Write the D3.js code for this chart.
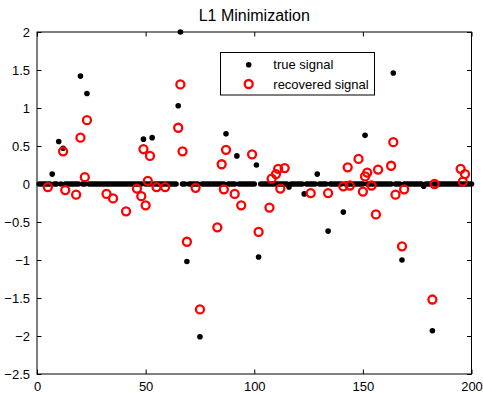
<!DOCTYPE html>
<html>
<head>
<meta charset="utf-8">
<script src="https://cdn.jsdelivr.net/npm/d3@7/dist/d3.min.js"></script>
<style>
  html, body { margin: 0; padding: 0; background: #fff; }
  svg { display: block; font-family: "Liberation Sans", Arial, Helvetica, sans-serif; }
</style>
</head>
<body>
<svg id="chart" width="483" height="393"></svg>
<script>
// Signal length and the nonzero entries of the sparse true signal (index, value)
const signalLength = 200;
const trueIdx = [7, 10, 12, 20, 23, 49, 53, 65, 66, 69, 75, 87, 92, 101, 102, 116, 123, 129, 134, 141, 151, 164, 168, 178, 182];
const trueVal = [0.13, 0.56, 0.47, 1.42, 1.19, 0.59, 0.61, 1.03, 2.0, -1.02, -2.01, 0.66, 0.37, 0.25, -0.96, -0.04, -0.13, 0.13, -0.62, -0.37, 0.64, 1.46, -1.0, -0.03, -1.93];

// Support of the recovered signal (index, value)
const recIdx = [5, 12, 13, 18, 20, 22, 23, 32, 35, 41, 46, 48, 49, 50, 51, 52, 55, 59, 65, 66, 67, 69, 73, 75, 83, 85, 86, 87, 91, 94, 99, 102, 107, 108, 110, 111, 112, 114, 126, 134, 141, 143, 144, 148, 150, 151, 152, 154, 156, 157, 163, 164, 165, 168, 169, 182, 183, 195, 196, 197];
const recVal = [-0.04, 0.43, -0.08, -0.14, 0.61, 0.09, 0.84, -0.13, -0.19, -0.36, -0.06, -0.16, 0.46, -0.28, 0.04, 0.37, -0.04, -0.04, 0.74, 1.31, 0.43, -0.76, -0.05, -1.65, -0.57, 0.26, -0.07, 0.45, -0.13, -0.28, 0.39, -0.63, -0.31, 0.07, 0.13, 0.20, -0.06, 0.21, -0.12, -0.12, -0.03, 0.22, -0.02, 0.33, -0.10, 0.10, 0.15, -0.02, -0.40, 0.19, 0.24, 0.55, -0.14, -0.82, -0.07, -1.52, 0.00, 0.20, 0.03, 0.13];

// Axis ticks
const xTicks = [0, 50, 100, 150, 200];
const yTicks = [-2.5, -2, -1.5, -1, -0.5, 0, 0.5, 1, 1.5, 2];

const titleText = "L1 Minimization";
const legendLabels = ["true signal", "recovered signal"];

// Full true signal: zeros everywhere except the listed entries
const trueSignal = d3.range(1, signalLength + 1).map(i => {
  const k = trueIdx.indexOf(i);
  return { i, v: k >= 0 ? trueVal[k] : 0 };
});
const recovered = recIdx.map((i, k) => ({ i, v: recVal[k] }));

const svg = d3.select("#chart");
const plot = { left: 37, right: 471.5, top: 32, bottom: 374 };

const x = d3.scaleLinear().domain([0, 200]).range([plot.left, plot.right]);
const y = d3.scaleLinear().domain([-2.5, 2]).range([plot.bottom, plot.top]);

const fmt = v => (v < 0 ? "\u2212" + Math.abs(v) : String(v));

// Title
svg.append("text")
  .attr("x", (plot.left + plot.right) / 2)
  .attr("y", 21)
  .attr("text-anchor", "middle")
  .attr("font-size", 16)
  .attr("fill", "#000")
  .text(titleText);

// Bottom axis with inward ticks, mirrored at the top
const tickLen = 4.5;
svg.append("g")
  .attr("transform", `translate(0,${plot.bottom})`)
  .call(d3.axisBottom(x).tickValues(xTicks).tickSize(-tickLen).tickPadding(8).tickFormat(fmt))
  .call(g => g.select(".domain").remove())
  .call(g => g.selectAll("text").attr("font-size", 13).attr("font-family", null).attr("fill", "#000"))
  .call(g => g.selectAll("line").attr("stroke", "#000"));

svg.append("g")
  .attr("transform", `translate(0,${plot.top})`)
  .call(d3.axisTop(x).tickValues(xTicks).tickSize(-tickLen).tickFormat(""))
  .call(g => g.select(".domain").remove())
  .call(g => g.selectAll("line").attr("stroke", "#000"));

// Left axis with inward ticks, mirrored at the right
svg.append("g")
  .attr("transform", `translate(${plot.left},0)`)
  .call(d3.axisLeft(y).tickValues(yTicks).tickSize(-tickLen).tickPadding(7).tickFormat(fmt))
  .call(g => g.select(".domain").remove())
  .call(g => g.selectAll("text").attr("font-size", 13).attr("font-family", null).attr("fill", "#000"))
  .call(g => g.selectAll("line").attr("stroke", "#000"));

svg.append("g")
  .attr("transform", `translate(${plot.right},0)`)
  .call(d3.axisRight(y).tickValues(yTicks).tickSize(-tickLen).tickFormat(""))
  .call(g => g.select(".domain").remove())
  .call(g => g.selectAll("line").attr("stroke", "#000"));

// Axes box
svg.append("rect")
  .attr("x", plot.left)
  .attr("y", plot.top)
  .attr("width", plot.right - plot.left)
  .attr("height", plot.bottom - plot.top)
  .attr("fill", "none")
  .attr("stroke", "#000")
  .attr("stroke-width", 1);

// True signal as black dots
svg.append("g")
  .selectAll("circle")
  .data(trueSignal)
  .join("circle")
  .attr("cx", d => x(d.i))
  .attr("cy", d => y(d.v))
  .attr("r", 2.8)
  .attr("fill", "#000");

// Recovered signal as red open circles
svg.append("g")
  .selectAll("circle")
  .data(recovered)
  .join("circle")
  .attr("cx", d => x(d.i))
  .attr("cy", d => y(d.v))
  .attr("r", 4)
  .attr("fill", "none")
  .attr("stroke", "#ff0000")
  .attr("stroke-width", 2.3);

// Legend
const legend = svg.append("g");
legend.append("rect")
  .attr("x", 220.5)
  .attr("y", 52.5)
  .attr("width", 154)
  .attr("height", 42.5)
  .attr("fill", "#fff")
  .attr("stroke", "#000")
  .attr("stroke-width", 1);

const rowY = [64.7, 84];
legend.append("circle")
  .attr("cx", 248.7).attr("cy", rowY[0]).attr("r", 2.8).attr("fill", "#000");
legend.append("circle")
  .attr("cx", 248.7).attr("cy", rowY[1]).attr("r", 4)
  .attr("fill", "none").attr("stroke", "#ff0000").attr("stroke-width", 2.3);

legend.selectAll("text.lbl")
  .data(legendLabels)
  .join("text")
  .attr("class", "lbl")
  .attr("x", 273.3)
  .attr("y", (d, k) => rowY[k] + 4.5)
  .attr("font-size", 13)
  .attr("fill", "#000")
  .text(d => d);
</script>
</body>
</html>
